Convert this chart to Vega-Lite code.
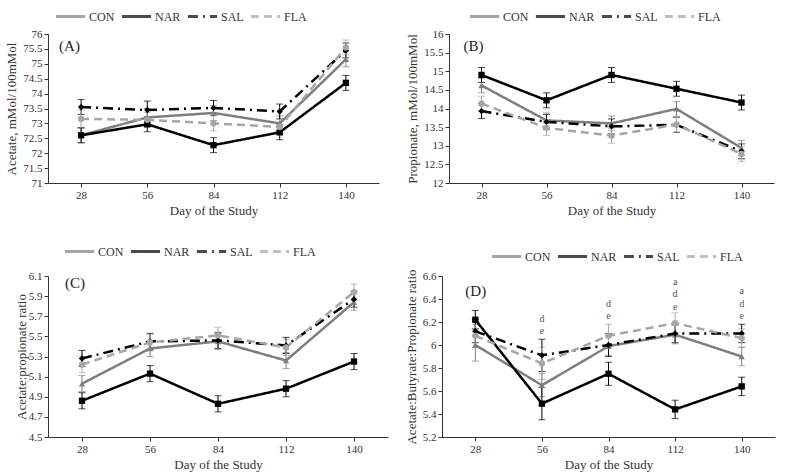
{
  "$schema": "https://vega.github.io/schema/vega-lite/v6.json",
  "padding": {"left": 5, "top": 0, "right": 5, "bottom": 5},
  "background": "white",
  "datasets": {
    "vfa": [
      {"panel": "A", "group": "CON", "day": 28, "mean": 72.6, "se": 0.25},
      {"panel": "A", "group": "CON", "day": 56, "mean": 73.2, "se": 0.3},
      {"panel": "A", "group": "CON", "day": 84, "mean": 73.35, "se": 0.25},
      {"panel": "A", "group": "CON", "day": 112, "mean": 73.0, "se": 0.25},
      {"panel": "A", "group": "CON", "day": 140, "mean": 75.15, "se": 0.25},
      {"panel": "A", "group": "NAR", "day": 28, "mean": 72.6, "se": 0.25},
      {"panel": "A", "group": "NAR", "day": 56, "mean": 72.97, "se": 0.25},
      {"panel": "A", "group": "NAR", "day": 84, "mean": 72.27, "se": 0.25},
      {"panel": "A", "group": "NAR", "day": 112, "mean": 72.7, "se": 0.25},
      {"panel": "A", "group": "NAR", "day": 140, "mean": 74.36, "se": 0.25},
      {"panel": "A", "group": "SAL", "day": 28, "mean": 73.55, "se": 0.25},
      {"panel": "A", "group": "SAL", "day": 56, "mean": 73.45, "se": 0.3},
      {"panel": "A", "group": "SAL", "day": 84, "mean": 73.52, "se": 0.25},
      {"panel": "A", "group": "SAL", "day": 112, "mean": 73.4, "se": 0.25},
      {"panel": "A", "group": "SAL", "day": 140, "mean": 75.45, "se": 0.25},
      {"panel": "A", "group": "FLA", "day": 28, "mean": 73.15, "se": 0.3},
      {"panel": "A", "group": "FLA", "day": 56, "mean": 73.12, "se": 0.25},
      {"panel": "A", "group": "FLA", "day": 84, "mean": 73.0, "se": 0.25},
      {"panel": "A", "group": "FLA", "day": 112, "mean": 72.88, "se": 0.25},
      {"panel": "A", "group": "FLA", "day": 140, "mean": 75.55, "se": 0.25},

      {"panel": "B", "group": "CON", "day": 28, "mean": 14.62, "se": 0.2},
      {"panel": "B", "group": "CON", "day": 56, "mean": 13.68, "se": 0.2},
      {"panel": "B", "group": "CON", "day": 84, "mean": 13.6, "se": 0.2},
      {"panel": "B", "group": "CON", "day": 112, "mean": 13.99, "se": 0.2},
      {"panel": "B", "group": "CON", "day": 140, "mean": 12.94, "se": 0.2},
      {"panel": "B", "group": "NAR", "day": 28, "mean": 14.9, "se": 0.2},
      {"panel": "B", "group": "NAR", "day": 56, "mean": 14.22, "se": 0.2},
      {"panel": "B", "group": "NAR", "day": 84, "mean": 14.9, "se": 0.2},
      {"panel": "B", "group": "NAR", "day": 112, "mean": 14.53, "se": 0.2},
      {"panel": "B", "group": "NAR", "day": 140, "mean": 14.16, "se": 0.2},
      {"panel": "B", "group": "SAL", "day": 28, "mean": 13.93, "se": 0.2},
      {"panel": "B", "group": "SAL", "day": 56, "mean": 13.64, "se": 0.2},
      {"panel": "B", "group": "SAL", "day": 84, "mean": 13.52, "se": 0.2},
      {"panel": "B", "group": "SAL", "day": 112, "mean": 13.56, "se": 0.2},
      {"panel": "B", "group": "SAL", "day": 140, "mean": 12.85, "se": 0.2},
      {"panel": "B", "group": "FLA", "day": 28, "mean": 14.13, "se": 0.2},
      {"panel": "B", "group": "FLA", "day": 56, "mean": 13.48, "se": 0.2},
      {"panel": "B", "group": "FLA", "day": 84, "mean": 13.27, "se": 0.2},
      {"panel": "B", "group": "FLA", "day": 112, "mean": 13.57, "se": 0.2},
      {"panel": "B", "group": "FLA", "day": 140, "mean": 12.78, "se": 0.2},

      {"panel": "C", "group": "CON", "day": 28, "mean": 5.03, "se": 0.08},
      {"panel": "C", "group": "CON", "day": 56, "mean": 5.38, "se": 0.08},
      {"panel": "C", "group": "CON", "day": 84, "mean": 5.45, "se": 0.08},
      {"panel": "C", "group": "CON", "day": 112, "mean": 5.26, "se": 0.08},
      {"panel": "C", "group": "CON", "day": 140, "mean": 5.84, "se": 0.08},
      {"panel": "C", "group": "NAR", "day": 28, "mean": 4.86, "se": 0.08},
      {"panel": "C", "group": "NAR", "day": 56, "mean": 5.13, "se": 0.08},
      {"panel": "C", "group": "NAR", "day": 84, "mean": 4.83, "se": 0.08},
      {"panel": "C", "group": "NAR", "day": 112, "mean": 4.98, "se": 0.08},
      {"panel": "C", "group": "NAR", "day": 140, "mean": 5.25, "se": 0.08},
      {"panel": "C", "group": "SAL", "day": 28, "mean": 5.28, "se": 0.08},
      {"panel": "C", "group": "SAL", "day": 56, "mean": 5.45, "se": 0.08},
      {"panel": "C", "group": "SAL", "day": 84, "mean": 5.46, "se": 0.08},
      {"panel": "C", "group": "SAL", "day": 112, "mean": 5.41, "se": 0.08},
      {"panel": "C", "group": "SAL", "day": 140, "mean": 5.87, "se": 0.08},
      {"panel": "C", "group": "FLA", "day": 28, "mean": 5.22, "se": 0.08},
      {"panel": "C", "group": "FLA", "day": 56, "mean": 5.44, "se": 0.08},
      {"panel": "C", "group": "FLA", "day": 84, "mean": 5.51, "se": 0.08},
      {"panel": "C", "group": "FLA", "day": 112, "mean": 5.39, "se": 0.08},
      {"panel": "C", "group": "FLA", "day": 140, "mean": 5.94, "se": 0.08},

      {"panel": "D", "group": "CON", "day": 28, "mean": 6.0, "se": 0.14},
      {"panel": "D", "group": "CON", "day": 56, "mean": 5.65, "se": 0.1},
      {"panel": "D", "group": "CON", "day": 84, "mean": 5.99, "se": 0.08},
      {"panel": "D", "group": "CON", "day": 112, "mean": 6.09, "se": 0.08},
      {"panel": "D", "group": "CON", "day": 140, "mean": 5.9, "se": 0.08},
      {"panel": "D", "group": "NAR", "day": 28, "mean": 6.22, "se": 0.08},
      {"panel": "D", "group": "NAR", "day": 56, "mean": 5.49, "se": 0.14},
      {"panel": "D", "group": "NAR", "day": 84, "mean": 5.75, "se": 0.1},
      {"panel": "D", "group": "NAR", "day": 112, "mean": 5.44, "se": 0.08},
      {"panel": "D", "group": "NAR", "day": 140, "mean": 5.64, "se": 0.08},
      {"panel": "D", "group": "SAL", "day": 28, "mean": 6.12, "se": 0.1},
      {"panel": "D", "group": "SAL", "day": 56, "mean": 5.91, "se": 0.14},
      {"panel": "D", "group": "SAL", "day": 84, "mean": 6.0, "se": 0.1},
      {"panel": "D", "group": "SAL", "day": 112, "mean": 6.1, "se": 0.08},
      {"panel": "D", "group": "SAL", "day": 140, "mean": 6.1, "se": 0.08},
      {"panel": "D", "group": "FLA", "day": 28, "mean": 6.08, "se": 0.1},
      {"panel": "D", "group": "FLA", "day": 56, "mean": 5.84, "se": 0.14},
      {"panel": "D", "group": "FLA", "day": 84, "mean": 6.08, "se": 0.1},
      {"panel": "D", "group": "FLA", "day": 112, "mean": 6.19, "se": 0.09},
      {"panel": "D", "group": "FLA", "day": 140, "mean": 6.06, "se": 0.08}
    ],
    "letters": [
      {"day": 56, "y": 6.225, "label": "d"},
      {"day": 56, "y": 6.125, "label": "e"},
      {"day": 84, "y": 6.36, "label": "d"},
      {"day": 84, "y": 6.255, "label": "e"},
      {"day": 112, "y": 6.55, "label": "a"},
      {"day": 112, "y": 6.44, "label": "d"},
      {"day": 112, "y": 6.33, "label": "e"},
      {"day": 140, "y": 6.47, "label": "a"},
      {"day": 140, "y": 6.36, "label": "d"},
      {"day": 140, "y": 6.255, "label": "e"}
    ],
    "panels": [
      {"panel": "A", "day": 28, "y": 75.6, "label": "(A)"},
      {"panel": "B", "day": 28, "y": 15.68, "label": "(B)"},
      {"panel": "C", "day": 28, "y": 6.03, "label": "(C)"},
      {"panel": "D", "day": 28, "y": 6.47, "label": "(D)"}
    ]
  },
  "resolve": {"scale": {"color": "independent", "strokeDash": "independent", "x": "independent", "y": "independent"}},
  "vconcat": [
    {
      "resolve": {"scale": {"color": "independent", "strokeDash": "independent", "x": "independent", "y": "independent"}},
      "hconcat": [
        {
          "width": 331, "height": 149,
          "layer": [
            {
              "data": {"name": "vfa"},
              "transform": [{"filter": "datum.panel === 'A'"}],
              "mark": {"type": "errorbar", "ticks": {"size": 7}, "thickness": 1},
              "encoding": {
                "x": {"field": "day", "type": "ordinal", "scale": {"type": "point", "padding": 0.5, "domain": [28, 56, 84, 112, 140]}, "title": "Day of the Study", "axis": {"labelAngle": 0}},
                "y": {"field": "mean", "type": "quantitative", "scale": {"domain": [71, 76], "nice": false, "zero": false}, "title": "Acetate, mMol/100mMol", "axis": {"values": [71, 71.5, 72, 72.5, 73, 73.5, 74, 74.5, 75, 75.5, 76], "format": ".1~f", "labelOverlap": false}},
                "yError": {"field": "se"},
                "color": {"field": "group", "type": "nominal", "scale": {"domain": ["CON", "NAR", "SAL", "FLA"], "range": ["#7f7f7f", "#000000", "#000000", "#a6a6a6"]}, "legend": {"orient": "none", "legendX": 6, "legendY": -34, "direction": "horizontal", "title": null, "columnPadding": 0, "gridAlign": "none"}}
              }
            },
            {
              "data": {"name": "vfa"},
              "transform": [{"filter": "datum.panel === 'A'"}],
              "mark": {"type": "line", "strokeWidth": 2.5},
              "encoding": {
                "x": {"field": "day", "type": "ordinal", "scale": {"type": "point", "padding": 0.5, "domain": [28, 56, 84, 112, 140]}, "title": "Day of the Study", "axis": {"labelAngle": 0}},
                "y": {"field": "mean", "type": "quantitative", "scale": {"domain": [71, 76], "nice": false, "zero": false}, "title": "Acetate, mMol/100mMol", "axis": {"values": [71, 71.5, 72, 72.5, 73, 73.5, 74, 74.5, 75, 75.5, 76], "format": ".1~f", "labelOverlap": false}},
                "color": {"field": "group", "type": "nominal", "scale": {"domain": ["CON", "NAR", "SAL", "FLA"], "range": ["#7f7f7f", "#000000", "#000000", "#a6a6a6"]}, "legend": {"orient": "none", "legendX": 6, "legendY": -34, "direction": "horizontal", "title": null, "columnPadding": 0, "gridAlign": "none"}},
                "strokeDash": {"field": "group", "type": "nominal", "scale": {"domain": ["CON", "NAR", "SAL", "FLA"], "range": [[1, 0], [1, 0], [10, 5, 2, 5], [8, 5]]}, "legend": {"orient": "none", "legendX": 6, "legendY": -34, "direction": "horizontal", "title": null, "columnPadding": 0, "gridAlign": "none"}}
              }
            },
            {
              "data": {"name": "vfa"},
              "transform": [{"filter": "datum.panel === 'A'"}],
              "mark": {"type": "point", "filled": true, "opacity": 1, "size": 40},
              "encoding": {
                "x": {"field": "day", "type": "ordinal", "scale": {"type": "point", "padding": 0.5, "domain": [28, 56, 84, 112, 140]}, "title": "Day of the Study", "axis": {"labelAngle": 0}},
                "y": {"field": "mean", "type": "quantitative", "scale": {"domain": [71, 76], "nice": false, "zero": false}, "title": "Acetate, mMol/100mMol", "axis": {"values": [71, 71.5, 72, 72.5, 73, 73.5, 74, 74.5, 75, 75.5, 76], "format": ".1~f", "labelOverlap": false}},
                "fill": {"condition": [{"test": "datum.group === 'CON'", "value": "#7f7f7f"}, {"test": "datum.group === 'FLA'", "value": "#a6a6a6"}], "value": "#000000"},
                "shape": {"condition": [{"test": "datum.group === 'CON'", "value": "triangle-up"}, {"test": "datum.group === 'NAR'", "value": "square"}, {"test": "datum.group === 'SAL'", "value": "diamond"}], "value": "circle"}
              }
            },
            {
              "data": {"name": "panels"},
              "transform": [{"filter": "datum.panel === 'A'"}],
              "mark": {"type": "text", "align": "left", "baseline": "middle", "dx": -22, "font": "Liberation Serif", "fontSize": 15, "color": "#222"},
              "encoding": {
                "x": {"field": "day", "type": "ordinal", "scale": {"type": "point", "padding": 0.5, "domain": [28, 56, 84, 112, 140]}, "title": "Day of the Study", "axis": {"labelAngle": 0}},
                "y": {"field": "y", "type": "quantitative", "scale": {"domain": [71, 76], "nice": false, "zero": false}, "title": "Acetate, mMol/100mMol", "axis": {"values": [71, 71.5, 72, 72.5, 73, 73.5, 74, 74.5, 75, 75.5, 76], "format": ".1~f", "labelOverlap": false}},
                "text": {"field": "label"}
              }
            }
          ]
        },
        {
          "width": 325, "height": 149,
          "layer": [
            {
              "data": {"name": "vfa"},
              "transform": [{"filter": "datum.panel === 'B'"}],
              "mark": {"type": "errorbar", "ticks": {"size": 7}, "thickness": 1},
              "encoding": {
                "x": {"field": "day", "type": "ordinal", "scale": {"type": "point", "padding": 0.5, "domain": [28, 56, 84, 112, 140]}, "title": "Day of the Study", "axis": {"labelAngle": 0}},
                "y": {"field": "mean", "type": "quantitative", "scale": {"domain": [12, 16], "nice": false, "zero": false}, "title": "Propionate, mMol/100mMol", "axis": {"values": [12, 12.5, 13, 13.5, 14, 14.5, 15, 15.5, 16], "format": ".1~f", "labelOverlap": false}},
                "yError": {"field": "se"},
                "color": {"field": "group", "type": "nominal", "scale": {"domain": ["CON", "NAR", "SAL", "FLA"], "range": ["#7f7f7f", "#000000", "#000000", "#a6a6a6"]}, "legend": {"orient": "none", "legendX": 19, "legendY": -34, "direction": "horizontal", "title": null, "columnPadding": 0, "gridAlign": "none"}}
              }
            },
            {
              "data": {"name": "vfa"},
              "transform": [{"filter": "datum.panel === 'B'"}],
              "mark": {"type": "line", "strokeWidth": 2.5},
              "encoding": {
                "x": {"field": "day", "type": "ordinal", "scale": {"type": "point", "padding": 0.5, "domain": [28, 56, 84, 112, 140]}, "title": "Day of the Study", "axis": {"labelAngle": 0}},
                "y": {"field": "mean", "type": "quantitative", "scale": {"domain": [12, 16], "nice": false, "zero": false}, "title": "Propionate, mMol/100mMol", "axis": {"values": [12, 12.5, 13, 13.5, 14, 14.5, 15, 15.5, 16], "format": ".1~f", "labelOverlap": false}},
                "color": {"field": "group", "type": "nominal", "scale": {"domain": ["CON", "NAR", "SAL", "FLA"], "range": ["#7f7f7f", "#000000", "#000000", "#a6a6a6"]}, "legend": {"orient": "none", "legendX": 19, "legendY": -34, "direction": "horizontal", "title": null, "columnPadding": 0, "gridAlign": "none"}},
                "strokeDash": {"field": "group", "type": "nominal", "scale": {"domain": ["CON", "NAR", "SAL", "FLA"], "range": [[1, 0], [1, 0], [10, 5, 2, 5], [8, 5]]}, "legend": {"orient": "none", "legendX": 19, "legendY": -34, "direction": "horizontal", "title": null, "columnPadding": 0, "gridAlign": "none"}}
              }
            },
            {
              "data": {"name": "vfa"},
              "transform": [{"filter": "datum.panel === 'B'"}],
              "mark": {"type": "point", "filled": true, "opacity": 1, "size": 40},
              "encoding": {
                "x": {"field": "day", "type": "ordinal", "scale": {"type": "point", "padding": 0.5, "domain": [28, 56, 84, 112, 140]}, "title": "Day of the Study", "axis": {"labelAngle": 0}},
                "y": {"field": "mean", "type": "quantitative", "scale": {"domain": [12, 16], "nice": false, "zero": false}, "title": "Propionate, mMol/100mMol", "axis": {"values": [12, 12.5, 13, 13.5, 14, 14.5, 15, 15.5, 16], "format": ".1~f", "labelOverlap": false}},
                "fill": {"condition": [{"test": "datum.group === 'CON'", "value": "#7f7f7f"}, {"test": "datum.group === 'FLA'", "value": "#a6a6a6"}], "value": "#000000"},
                "shape": {"condition": [{"test": "datum.group === 'CON'", "value": "triangle-up"}, {"test": "datum.group === 'NAR'", "value": "square"}, {"test": "datum.group === 'SAL'", "value": "diamond"}], "value": "circle"}
              }
            },
            {
              "data": {"name": "panels"},
              "transform": [{"filter": "datum.panel === 'B'"}],
              "mark": {"type": "text", "align": "left", "baseline": "middle", "dx": -18, "font": "Liberation Serif", "fontSize": 15, "color": "#222"},
              "encoding": {
                "x": {"field": "day", "type": "ordinal", "scale": {"type": "point", "padding": 0.5, "domain": [28, 56, 84, 112, 140]}, "title": "Day of the Study", "axis": {"labelAngle": 0}},
                "y": {"field": "y", "type": "quantitative", "scale": {"domain": [12, 16], "nice": false, "zero": false}, "title": "Propionate, mMol/100mMol", "axis": {"values": [12, 12.5, 13, 13.5, 14, 14.5, 15, 15.5, 16], "format": ".1~f", "labelOverlap": false}},
                "text": {"field": "label"}
              }
            }
          ]
        }
      ],
      "spacing": 27
    },
    {
      "resolve": {"scale": {"color": "independent", "strokeDash": "independent", "x": "independent", "y": "independent"}},
      "hconcat": [
        {
          "width": 340, "height": 161,
          "layer": [
            {
              "data": {"name": "vfa"},
              "transform": [{"filter": "datum.panel === 'C'"}],
              "mark": {"type": "errorbar", "ticks": {"size": 7}, "thickness": 1},
              "encoding": {
                "x": {"field": "day", "type": "ordinal", "scale": {"type": "point", "padding": 0.5, "domain": [28, 56, 84, 112, 140]}, "title": "Day of the Study", "axis": {"labelAngle": 0}},
                "y": {"field": "mean", "type": "quantitative", "scale": {"domain": [4.5, 6.1], "nice": false, "zero": false}, "title": "Acetate:propionate ratio", "axis": {"values": [4.5, 4.7, 4.9, 5.1, 5.3, 5.5, 5.7, 5.9, 6.1], "format": ".1f", "labelOverlap": false, "titlePadding": 0}},
                "yError": {"field": "se"},
                "color": {"field": "group", "type": "nominal", "scale": {"domain": ["CON", "NAR", "SAL", "FLA"], "range": ["#7f7f7f", "#000000", "#000000", "#a6a6a6"]}, "legend": {"orient": "none", "legendX": 15, "legendY": -41, "direction": "horizontal", "title": null, "columnPadding": 0, "gridAlign": "none"}}
              }
            },
            {
              "data": {"name": "vfa"},
              "transform": [{"filter": "datum.panel === 'C'"}],
              "mark": {"type": "line", "strokeWidth": 2.5},
              "encoding": {
                "x": {"field": "day", "type": "ordinal", "scale": {"type": "point", "padding": 0.5, "domain": [28, 56, 84, 112, 140]}, "title": "Day of the Study", "axis": {"labelAngle": 0}},
                "y": {"field": "mean", "type": "quantitative", "scale": {"domain": [4.5, 6.1], "nice": false, "zero": false}, "title": "Acetate:propionate ratio", "axis": {"values": [4.5, 4.7, 4.9, 5.1, 5.3, 5.5, 5.7, 5.9, 6.1], "format": ".1f", "labelOverlap": false, "titlePadding": 0}},
                "color": {"field": "group", "type": "nominal", "scale": {"domain": ["CON", "NAR", "SAL", "FLA"], "range": ["#7f7f7f", "#000000", "#000000", "#a6a6a6"]}, "legend": {"orient": "none", "legendX": 15, "legendY": -41, "direction": "horizontal", "title": null, "columnPadding": 0, "gridAlign": "none"}},
                "strokeDash": {"field": "group", "type": "nominal", "scale": {"domain": ["CON", "NAR", "SAL", "FLA"], "range": [[1, 0], [1, 0], [10, 5, 2, 5], [8, 5]]}, "legend": {"orient": "none", "legendX": 15, "legendY": -41, "direction": "horizontal", "title": null, "columnPadding": 0, "gridAlign": "none"}}
              }
            },
            {
              "data": {"name": "vfa"},
              "transform": [{"filter": "datum.panel === 'C'"}],
              "mark": {"type": "point", "filled": true, "opacity": 1, "size": 40},
              "encoding": {
                "x": {"field": "day", "type": "ordinal", "scale": {"type": "point", "padding": 0.5, "domain": [28, 56, 84, 112, 140]}, "title": "Day of the Study", "axis": {"labelAngle": 0}},
                "y": {"field": "mean", "type": "quantitative", "scale": {"domain": [4.5, 6.1], "nice": false, "zero": false}, "title": "Acetate:propionate ratio", "axis": {"values": [4.5, 4.7, 4.9, 5.1, 5.3, 5.5, 5.7, 5.9, 6.1], "format": ".1f", "labelOverlap": false, "titlePadding": 0}},
                "fill": {"condition": [{"test": "datum.group === 'CON'", "value": "#7f7f7f"}, {"test": "datum.group === 'FLA'", "value": "#a6a6a6"}], "value": "#000000"},
                "shape": {"condition": [{"test": "datum.group === 'CON'", "value": "triangle-up"}, {"test": "datum.group === 'NAR'", "value": "square"}, {"test": "datum.group === 'SAL'", "value": "diamond"}], "value": "circle"}
              }
            },
            {
              "data": {"name": "panels"},
              "transform": [{"filter": "datum.panel === 'C'"}],
              "mark": {"type": "text", "align": "left", "baseline": "middle", "dx": -17, "font": "Liberation Serif", "fontSize": 15, "color": "#222"},
              "encoding": {
                "x": {"field": "day", "type": "ordinal", "scale": {"type": "point", "padding": 0.5, "domain": [28, 56, 84, 112, 140]}, "title": "Day of the Study", "axis": {"labelAngle": 0}},
                "y": {"field": "y", "type": "quantitative", "scale": {"domain": [4.5, 6.1], "nice": false, "zero": false}, "title": "Acetate:propionate ratio", "axis": {"values": [4.5, 4.7, 4.9, 5.1, 5.3, 5.5, 5.7, 5.9, 6.1], "format": ".1f", "labelOverlap": false, "titlePadding": 0}},
                "text": {"field": "label"}
              }
            }
          ]
        },
        {
          "width": 333, "height": 161,
          "layer": [
            {
              "data": {"name": "vfa"},
              "transform": [{"filter": "datum.panel === 'D'"}],
              "mark": {"type": "errorbar", "ticks": {"size": 7}, "thickness": 1},
              "encoding": {
                "x": {"field": "day", "type": "ordinal", "scale": {"type": "point", "padding": 0.5, "domain": [28, 56, 84, 112, 140]}, "title": "Day of the Study", "axis": {"labelAngle": 0}},
                "y": {"field": "mean", "type": "quantitative", "scale": {"domain": [5.2, 6.6], "nice": false, "zero": false}, "title": "Acetate:Butyrate:Propionate ratio", "axis": {"values": [5.2, 5.4, 5.6, 5.8, 6, 6.2, 6.4, 6.6], "format": ".1~f", "labelOverlap": false}},
                "yError": {"field": "se"},
                "color": {"field": "group", "type": "nominal", "scale": {"domain": ["CON", "NAR", "SAL", "FLA"], "range": ["#7f7f7f", "#000000", "#000000", "#a6a6a6"]}, "legend": {"orient": "none", "legendX": 48, "legendY": -36, "direction": "horizontal", "title": null, "columnPadding": 0, "gridAlign": "none"}}
              }
            },
            {
              "data": {"name": "vfa"},
              "transform": [{"filter": "datum.panel === 'D'"}],
              "mark": {"type": "line", "strokeWidth": 2.5},
              "encoding": {
                "x": {"field": "day", "type": "ordinal", "scale": {"type": "point", "padding": 0.5, "domain": [28, 56, 84, 112, 140]}, "title": "Day of the Study", "axis": {"labelAngle": 0}},
                "y": {"field": "mean", "type": "quantitative", "scale": {"domain": [5.2, 6.6], "nice": false, "zero": false}, "title": "Acetate:Butyrate:Propionate ratio", "axis": {"values": [5.2, 5.4, 5.6, 5.8, 6, 6.2, 6.4, 6.6], "format": ".1~f", "labelOverlap": false}},
                "color": {"field": "group", "type": "nominal", "scale": {"domain": ["CON", "NAR", "SAL", "FLA"], "range": ["#7f7f7f", "#000000", "#000000", "#a6a6a6"]}, "legend": {"orient": "none", "legendX": 48, "legendY": -36, "direction": "horizontal", "title": null, "columnPadding": 0, "gridAlign": "none"}},
                "strokeDash": {"field": "group", "type": "nominal", "scale": {"domain": ["CON", "NAR", "SAL", "FLA"], "range": [[1, 0], [1, 0], [10, 5, 2, 5], [8, 5]]}, "legend": {"orient": "none", "legendX": 48, "legendY": -36, "direction": "horizontal", "title": null, "columnPadding": 0, "gridAlign": "none"}}
              }
            },
            {
              "data": {"name": "vfa"},
              "transform": [{"filter": "datum.panel === 'D'"}],
              "mark": {"type": "point", "filled": true, "opacity": 1, "size": 40},
              "encoding": {
                "x": {"field": "day", "type": "ordinal", "scale": {"type": "point", "padding": 0.5, "domain": [28, 56, 84, 112, 140]}, "title": "Day of the Study", "axis": {"labelAngle": 0}},
                "y": {"field": "mean", "type": "quantitative", "scale": {"domain": [5.2, 6.6], "nice": false, "zero": false}, "title": "Acetate:Butyrate:Propionate ratio", "axis": {"values": [5.2, 5.4, 5.6, 5.8, 6, 6.2, 6.4, 6.6], "format": ".1~f", "labelOverlap": false}},
                "fill": {"condition": [{"test": "datum.group === 'CON'", "value": "#7f7f7f"}, {"test": "datum.group === 'FLA'", "value": "#a6a6a6"}], "value": "#000000"},
                "shape": {"condition": [{"test": "datum.group === 'CON'", "value": "triangle-up"}, {"test": "datum.group === 'NAR'", "value": "square"}, {"test": "datum.group === 'SAL'", "value": "diamond"}], "value": "circle"}
              }
            },
            {
              "data": {"name": "panels"},
              "transform": [{"filter": "datum.panel === 'D'"}],
              "mark": {"type": "text", "align": "left", "baseline": "middle", "dx": -10, "font": "Liberation Serif", "fontSize": 15, "color": "#222"},
              "encoding": {
                "x": {"field": "day", "type": "ordinal", "scale": {"type": "point", "padding": 0.5, "domain": [28, 56, 84, 112, 140]}, "title": "Day of the Study", "axis": {"labelAngle": 0}},
                "y": {"field": "y", "type": "quantitative", "scale": {"domain": [5.2, 6.6], "nice": false, "zero": false}, "title": "Acetate:Butyrate:Propionate ratio", "axis": {"values": [5.2, 5.4, 5.6, 5.8, 6, 6.2, 6.4, 6.6], "format": ".1~f", "labelOverlap": false}},
                "text": {"field": "label"}
              }
            },
            {
              "data": {"name": "letters"},
              "mark": {"type": "text", "align": "center", "baseline": "middle", "font": "Liberation Serif", "fontSize": 10, "color": "#555"},
              "encoding": {
                "x": {"field": "day", "type": "ordinal", "scale": {"type": "point", "padding": 0.5, "domain": [28, 56, 84, 112, 140]}, "title": "Day of the Study", "axis": {"labelAngle": 0}},
                "y": {"field": "y", "type": "quantitative", "scale": {"domain": [5.2, 6.6], "nice": false, "zero": false}, "title": "Acetate:Butyrate:Propionate ratio", "axis": {"values": [5.2, 5.4, 5.6, 5.8, 6, 6.2, 6.4, 6.6], "format": ".1~f", "labelOverlap": false}},
                "text": {"field": "label"}
              }
            }
          ]
        }
      ],
      "spacing": 17
    }
  ],
  "spacing": 18,
  "config": {
    "view": {"stroke": null},
    "axis": {
      "grid": false,
      "domainColor": "#333",
      "tickColor": "#333",
      "tickSize": 4,
      "labelOverlap": false,
      "labelFont": "Liberation Serif",
      "labelFontSize": 11,
      "labelColor": "#333",
      "titleFont": "Liberation Serif",
      "titleFontSize": 13,
      "titleFontWeight": "normal",
      "titleColor": "#333"
    },
    "legend": {
      "symbolType": "stroke",
      "symbolSize": 850,
      "symbolStrokeWidth": 3,
      "labelFont": "Liberation Serif",
      "labelFontSize": 12,
      "labelColor": "#333",
      "columnPadding": 0,
      "labelOffset": 2
    }
  }
}
